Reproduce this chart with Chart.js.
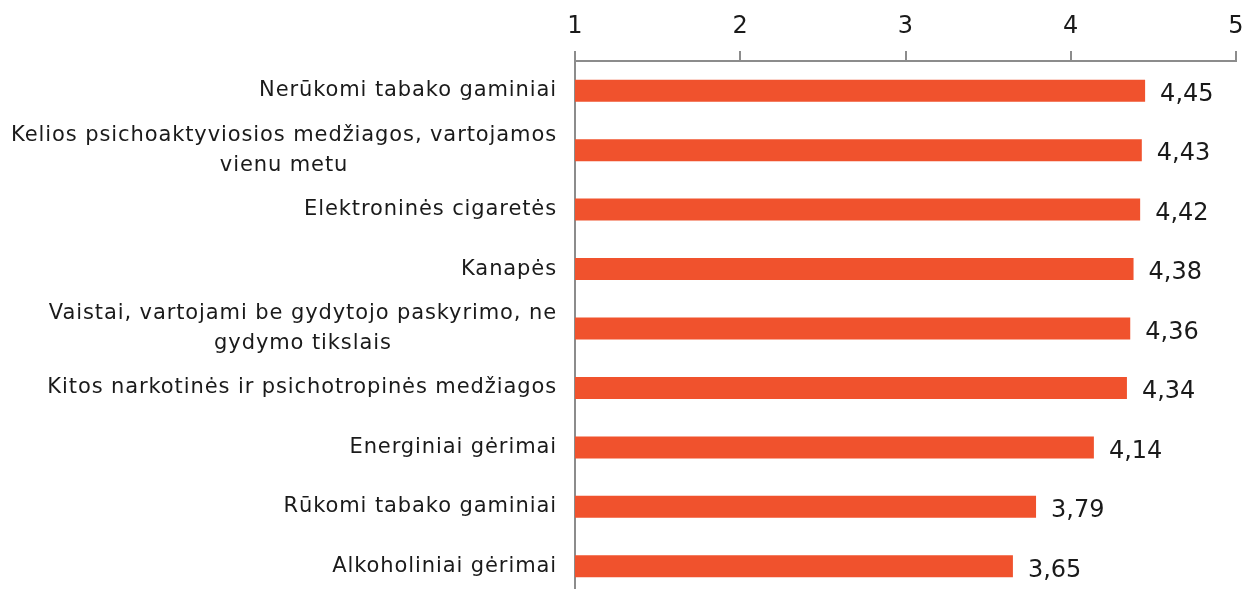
<!DOCTYPE html>
<html>
<head>
<meta charset="utf-8">
<script src="https://cdn.jsdelivr.net/npm/chart.js@4"></script>
<style>
  html, body { margin: 0; padding: 0; background: #fff; overflow: hidden; }
  #wrap { width: 1245px; height: 596px; }
</style>
</head>
<body>
<div id="wrap"><canvas id="chart"></canvas></div>
<script>
const categories = [
    ['Nerūkomi tabako gaminiai'],
    ['Kelios psichoaktyviosios medžiagos, vartojamos', 'vienu metu'],
    ['Elektroninės cigaretės'],
    ['Kanapės'],
    ['Vaistai, vartojami be gydytojo paskyrimo, ne', 'gydymo tikslais'],
    ['Kitos narkotinės ir psichotropinės medžiagos'],
    ['Energiniai gėrimai'],
    ['Rūkomi tabako gaminiai'],
    ['Alkoholiniai gėrimai']
];
const scores = [4.45, 4.43, 4.42, 4.38, 4.36, 4.34, 4.14, 3.79, 3.65];
const tickValues = [1, 2, 3, 4, 5];

const FONT = "'DejaVu Sans', sans-serif";
const TEXT = '#1a1a1a';
const AXIS = '#8c8c8c';

// category labels: lines centred under each other, block right aligned
const catLabels = {
    id: 'catLabels',
    afterDraw(chart) {
        const ctx = chart.ctx;
        const y = chart.scales.y;
        ctx.save();
        ctx.font = '21px ' + FONT;
        ctx.letterSpacing = '0.9px';
        ctx.fillStyle = TEXT;
        ctx.textAlign = 'center';
        ctx.textBaseline = 'middle';
        const right = chart.chartArea.left - 18;
        categories.forEach((lines, i) => {
            const w = Math.max(...lines.map(l => ctx.measureText(l).width));
            const cy = y.getPixelForValue(i);
            const lh = 30;
            lines.forEach((l, k) => {
                ctx.fillText(l, right - w / 2, cy + (k - (lines.length - 1) / 2) * lh);
            });
        });
        ctx.restore();
    }
};

// value labels at bar ends
const valueLabels = {
    id: 'valueLabels',
    afterDatasetsDraw(chart) {
        const ctx = chart.ctx;
        const meta = chart.getDatasetMeta(0);
        ctx.save();
        ctx.font = '24px ' + FONT;
        ctx.fillStyle = TEXT;
        ctx.textAlign = 'left';
        ctx.textBaseline = 'middle';
        meta.data.forEach((bar, i) => {
            ctx.fillText(scores[i].toFixed(2).replace('.', ','), bar.x + 15, bar.y + 4);
        });
        ctx.restore();
    }
};

new Chart(document.getElementById('chart'), {
    type: 'bar',
    data: {
        labels: categories,
        datasets: [{
            data: scores,
            backgroundColor: '#F0522D',
            borderWidth: 0,
            barPercentage: 0.37,
            categoryPercentage: 1
        }]
    },
    options: {
        indexAxis: 'y',
        responsive: true,
        maintainAspectRatio: false,
        animation: false,
        layout: { padding: { left: 0, right: 9, top: 0, bottom: 0 } },
        plugins: {
            legend: { display: false },
            tooltip: { enabled: false }
        },
        scales: {
            x: {
                position: 'top',
                min: 1,
                max: 5,
                afterBuildTicks: (s) => { s.ticks = tickValues.map(v => ({ value: v })); },
                afterFit: (s) => { s.height = 61; s.paddingRight = 0; s.paddingLeft = 0; },
                grid: {
                    drawOnChartArea: false,
                    drawTicks: true,
                    tickLength: 10,
                    color: AXIS,
                    lineWidth: 2
                },
                border: { color: AXIS, width: 2 },
                ticks: {
                    font: { family: FONT, size: 24 },
                    color: TEXT,
                    padding: 10,
                    maxRotation: 0
                }
            },
            y: {
                afterFit: (s) => { s.width = 575; s.paddingTop = 0; s.paddingBottom = 0; },
                grid: { display: false, drawTicks: false },
                border: { color: AXIS, width: 2 },
                ticks: { color: 'transparent', font: { family: FONT, size: 1 } }
            }
        }
    },
    plugins: [catLabels, valueLabels]
});
</script>
</body>
</html>
